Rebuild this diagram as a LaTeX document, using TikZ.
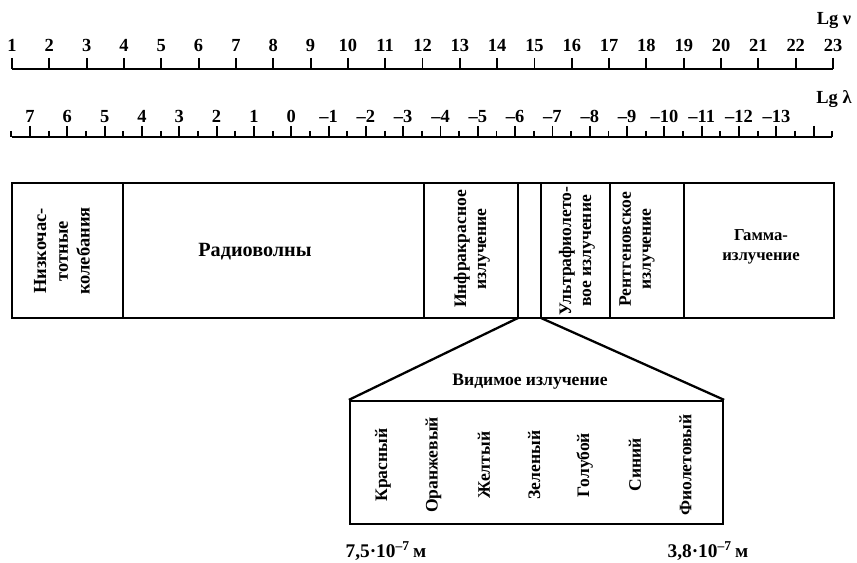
\documentclass[tikz,border=0pt]{standalone}
\usepackage{fontspec}
\setmainfont{Liberation Serif}
\usetikzlibrary{positioning, arrows.meta}

\tikzset{
  scaleline/.style={line width=1.1pt},
  band/.style={line width=1.3pt},
  num/.style={font=\fontsize{10.5}{12}\selectfont\bfseries, inner sep=0pt, anchor=base},
  lbl/.style={font=\fontsize{10}{11.4}\selectfont\bfseries, align=center, inner sep=0pt},
  vlbl/.style={lbl, rotate=90},
}

\begin{document}
\begin{tikzpicture}[x=0.02cm, y=-0.02cm, >=Stealth]
    \useasboundingbox (0,0) rectangle (857,563);

    % frequency scale
    \draw[scaleline] (12,69) -- (833,69);
    \foreach \n in {1,...,23} {
        \pgfmathsetmacro{\xx}{12+37.32*(\n-1)}
        \draw[scaleline] (\xx,58) -- (\xx,69);
        \node[num] (nu\n) at (\xx,52) {\n};
    }
    \node[num] (lgnu) at (834,25) {Lg ν};

    % wavelength scale
    \draw[scaleline] (12,137) -- (832,137);
    \foreach \k in {0,...,22} {
        \pgfmathsetmacro{\xx}{11.34+37.32*\k}
        \draw[scaleline] (\xx,131) -- (\xx,137);
    }
    \foreach \k in {0,...,21} {
        \pgfmathsetmacro{\xx}{29.98+37.32*\k}
        \draw[scaleline] (\xx,126) -- (\xx,137);
    }
    \foreach \k in {0,...,20} {
        \pgfmathtruncatemacro{\L}{7-\k}
        \pgfmathsetmacro{\xx}{29.98+37.32*\k}
        \node[num] (lam\k) at (\xx,123) {\ifnum\L<0 –\number-\L\else\L\fi};
    }
    \node[num] (lglam) at (834,104) {Lg λ};

    % bands
    \draw[band] (12,183) rectangle (834,318);
    \foreach \x in {123,424,518,541,610,684}
        \draw[band] (\x,183) -- (\x,318);
    \coordinate (visl) at (518,318);
    \coordinate (visr) at (541,318);

    \node[vlbl, font=\fontsize{10.5}{12.4}\selectfont\bfseries] (low) at (62,251) {Низкочас-\\тотные\\колебания};
    \node[lbl, font=\fontsize{11.5}{13}\selectfont\bfseries] (radio) at (255,252) {Радиоволны};
    \node[vlbl] (ir) at (472,249) {Инфракрасное\\излучение};
    \node[vlbl] (uv) at (577,251) {Ультрафиолето-\\вое излучение};
    \node[vlbl] (xray) at (637,249) {Рентгеновское\\излучение};
    \node[lbl, font=\fontsize{9.5}{11}\selectfont\bfseries] (gamma) at (761,247) {Гамма-\\излучение};

    % visible part
    \node[band, draw, minimum width=7.46cm, minimum height=2.46cm, inner sep=0pt] (spec) at (536.5,462.5) {};
    \draw[band] (visl) -- (spec.north west);
    \draw[band] (visr) -- (spec.north east);
    \node[lbl] (vistitle) at (530,382) {Видимое излучение};
    \foreach \c [count=\i from 0] in {Красный, Оранжевый, Желтый, Зеленый, Голубой, Синий, Фиолетовый}
        \node[vlbl] (col\i) at ({383+50.4*\i},465) {\c};

    \node[lbl, font=\fontsize{11}{12}\selectfont\bfseries, anchor=base] (lred) at (386,557) {7,5·10\textsuperscript{–7}\,м};
    \node[lbl, font=\fontsize{11}{12}\selectfont\bfseries, anchor=base] (lviolet) at (708,557) {3,8·10\textsuperscript{–7}\,м};
\end{tikzpicture}
\end{document}
